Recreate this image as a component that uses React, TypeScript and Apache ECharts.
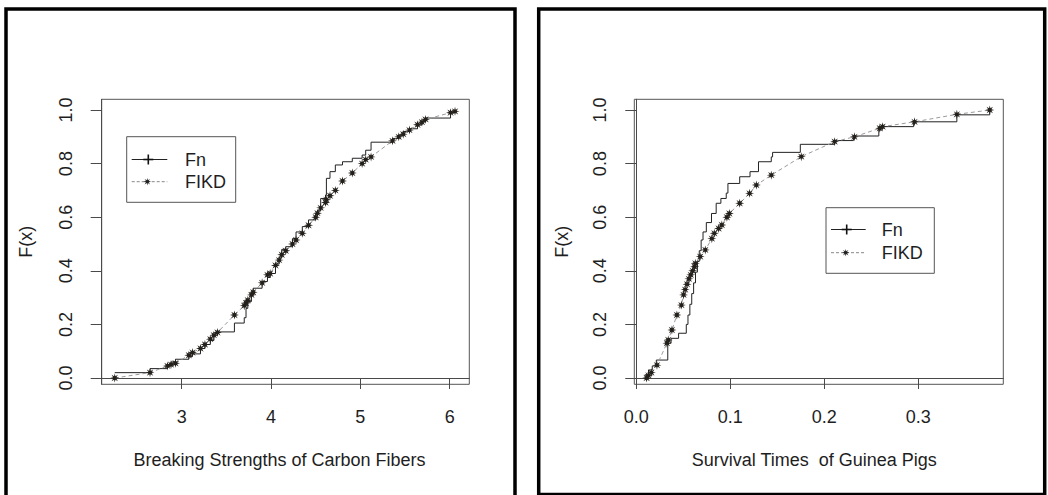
import React, { useEffect, useRef } from "react";
import * as echarts from "echarts";

// ---- Data ----
// Left panel: Breaking strengths of carbon fibers
const leftX = [
  2.25, 2.645, 2.84, 2.88, 2.93, 3.08, 3.12, 3.21, 3.26, 3.32, 3.36, 3.40, 3.59,
  3.70, 3.72, 3.74, 3.78, 3.80, 3.90, 3.96, 3.99, 4.05, 4.09, 4.12, 4.165, 4.24,
  4.28, 4.35, 4.42, 4.50, 4.52, 4.556, 4.61, 4.62, 4.66, 4.72, 4.80, 4.91, 5.02,
  5.06, 5.12, 5.36, 5.43, 5.48, 5.55, 5.64, 5.69, 5.73, 6.01, 6.06,
];
const leftFn = [
  0.02, 0.035, 0.05, 0.06, 0.07, 0.08, 0.09, 0.11, 0.125, 0.14, 0.16, 0.172, 0.205,
  0.225, 0.26, 0.285, 0.31, 0.335, 0.36, 0.375, 0.39, 0.425, 0.45, 0.48, 0.49, 0.52,
  0.545, 0.565, 0.59, 0.61, 0.625, 0.67, 0.683, 0.745, 0.77, 0.795, 0.807, 0.82, 0.832,
  0.85, 0.88, 0.894, 0.907, 0.92, 0.93, 0.944, 0.957, 0.97, 0.99, 0.99,
];
const leftFikd = [
  0.0, 0.02, 0.045, 0.05, 0.055, 0.085, 0.095, 0.11, 0.125, 0.145, 0.16, 0.17, 0.235,
  0.27, 0.28, 0.29, 0.31, 0.32, 0.355, 0.385, 0.39, 0.42, 0.44, 0.46, 0.475, 0.5,
  0.515, 0.54, 0.57, 0.6, 0.615, 0.635, 0.655, 0.665, 0.68, 0.7, 0.735, 0.765, 0.8,
  0.815, 0.825, 0.885, 0.9, 0.91, 0.925, 0.945, 0.955, 0.965, 0.99, 0.995,
];

// Right panel: Survival times of guinea pigs
const rightFnX = [
  0.009, 0.013, 0.017, 0.0213, 0.0335, 0.037, 0.045, 0.0532, 0.055, 0.057, 0.059,
  0.061, 0.063, 0.065, 0.067, 0.069, 0.071, 0.0745, 0.08, 0.085, 0.09, 0.0957,
  0.0975, 0.11, 0.121, 0.13, 0.1436, 0.145, 0.1745, 0.211, 0.231, 0.258, 0.26,
  0.295, 0.341, 0.376,
];
const rightFn = [
  0.012, 0.03, 0.045, 0.067, 0.13, 0.148, 0.167, 0.2, 0.235, 0.275, 0.315, 0.355,
  0.395, 0.435, 0.475, 0.515, 0.545, 0.58, 0.614, 0.652, 0.67, 0.69, 0.726, 0.751,
  0.77, 0.807, 0.825, 0.842, 0.872, 0.886, 0.903, 0.925, 0.938, 0.956, 0.982, 1.0,
];
const rightFikdX = [
  0.011, 0.013, 0.016, 0.022, 0.0326, 0.034, 0.0379, 0.0432, 0.048, 0.0503, 0.052,
  0.054, 0.056, 0.058, 0.06, 0.062, 0.0628, 0.068, 0.0734, 0.0804, 0.083, 0.0876,
  0.091, 0.0964, 0.099, 0.11, 0.1205, 0.1277, 0.1436, 0.1755, 0.211, 0.232, 0.259,
  0.262, 0.296, 0.341, 0.376,
];
const rightFikd = [
  0.0, 0.01, 0.02, 0.048, 0.13, 0.142, 0.179, 0.235, 0.272, 0.31, 0.33, 0.35, 0.37,
  0.385, 0.4, 0.415, 0.428, 0.453, 0.478, 0.52, 0.54, 0.558, 0.571, 0.6, 0.614,
  0.652, 0.689, 0.72, 0.757, 0.826, 0.882, 0.9, 0.932, 0.938, 0.956, 0.984, 1.0,
];

const leftXTicks = [3, 4, 5, 6];
const rightXTicks = [0.0, 0.1, 0.2, 0.3];
const yTicks = [0.0, 0.2, 0.4, 0.6, 0.8, 1.0];

const seriesNames = ["Fn", "FIKD"];
const leftTitle = "Breaking Strengths of Carbon Fibers";
const rightTitle = "Survival Times  of Guinea Pigs";
const yTitle = "F(x)";

const FONT = "'Liberation Sans', Arial, Helvetica, sans-serif";
const TXT = "#1e1e1e";
const AXC = "#4a4a4a";

function starPoints(cx: number, cy: number, r: number): number[][] {
  const pts: number[][] = [];
  for (let k = 0; k < 16; k++) {
    const a = (k * Math.PI) / 8 - Math.PI / 2;
    const rr = k % 2 === 0 ? r : r * 0.4;
    pts.push([cx + rr * Math.cos(a), cy + rr * Math.sin(a)]);
  }
  return pts;
}
const starSymbol =
  "path://M" +
  starPoints(0, 0, 1)
    .map((p) => p[0].toFixed(3) + "," + p[1].toFixed(3))
    .join("L") +
  "Z";

function legendGroup(
  bx: number, by: number, bw: number, bh: number,
  lx1: number, lx2: number, mx: number, tx: number, y1: number, y2: number
) {
  return [
    {
      type: "rect",
      shape: { x: bx, y: by, width: bw, height: bh },
      style: { fill: "#fff", stroke: "#555", lineWidth: 1 },
      z: 10,
    },
    { type: "line", shape: { x1: lx1, y1: y1, x2: lx2, y2: y1 }, style: { stroke: "#222", lineWidth: 1 }, z: 11 },
    { type: "line", shape: { x1: mx - 5, y1: y1, x2: mx + 5, y2: y1 }, style: { stroke: "#111", lineWidth: 1.6 }, z: 12 },
    { type: "line", shape: { x1: mx, y1: y1 - 5, x2: mx, y2: y1 + 5 }, style: { stroke: "#111", lineWidth: 1.6 }, z: 12 },
    {
      type: "text", x: tx, y: y1,
      style: { text: seriesNames[0], font: `18px ${FONT}`, fill: TXT, verticalAlign: "middle", align: "left" },
      z: 12,
    },
    { type: "line", shape: { x1: lx1, y1: y2, x2: lx2, y2: y2 }, style: { stroke: "#888", lineWidth: 1, lineDash: [3, 2] }, z: 11 },
    { type: "polygon", shape: { points: starPoints(mx - 1, y2, 3.8) }, style: { fill: "#222" }, z: 12 },
    {
      type: "text", x: tx, y: y2,
      style: { text: seriesNames[1], font: `18px ${FONT}`, fill: TXT, verticalAlign: "middle", align: "left" },
      z: 12,
    },
  ];
}

function xAxisOpt(gridIndex: number, min: number, max: number, ticks: number[], name: string, fmt: (v: number) => string, pad: number[]) {
  return {
    type: "value",
    gridIndex,
    min,
    max,
    splitLine: { show: false },
    axisLine: { show: true, lineStyle: { color: AXC, width: 1 } },
    axisTick: { show: true, length: 11, customValues: ticks, lineStyle: { color: AXC, width: 1 } },
    axisLabel: { customValues: ticks, formatter: fmt, fontSize: 18, fontFamily: FONT, color: TXT, margin: 24 },
    name,
    nameLocation: "middle",
    nameGap: 67,
    nameTextStyle: { fontSize: 18, fontFamily: FONT, color: TXT, padding: pad },
  };
}

function yAxisOpt(gridIndex: number, labelMargin: number, nameGap: number) {
  return {
    type: "value",
    gridIndex,
    min: -0.0235,
    max: 1.04,
    splitLine: { show: false },
    axisLine: { show: true, lineStyle: { color: AXC, width: 1 } },
    axisTick: { show: true, length: 11, customValues: yTicks, lineStyle: { color: AXC, width: 1 } },
    axisLabel: {
      customValues: yTicks,
      formatter: (v: number) => v.toFixed(1),
      rotate: 90,
      fontSize: 18,
      fontFamily: FONT,
      color: TXT,
      margin: labelMargin,
    },
    name: yTitle,
    nameLocation: "middle",
    nameRotate: 90,
    nameGap,
    nameTextStyle: { fontSize: 18, fontFamily: FONT, color: TXT },
  };
}

function fnSeries(xi: number, xs: number[], ys: number[]) {
  return {
    type: "line",
    name: seriesNames[0],
    xAxisIndex: xi,
    yAxisIndex: xi,
    data: xs.map((x, i) => [x, ys[i]]),
    step: "end",
    symbol: "none",
    lineStyle: { color: "#222", width: 1 },
    z: 3,
  };
}

function fikdSeries(xi: number, xs: number[], ys: number[]) {
  return {
    type: "line",
    name: seriesNames[1],
    xAxisIndex: xi,
    yAxisIndex: xi,
    data: xs.map((x, i) => [x, ys[i]]),
    symbol: starSymbol,
    symbolSize: 9,
    showSymbol: true,
    itemStyle: { color: "#231f1a" },
    lineStyle: { color: "#9a9a9a", width: 1, type: [4, 3] },
    z: 4,
  };
}

export default function App() {
  const ref = useRef<HTMLDivElement>(null);

  useEffect(() => {
    if (!ref.current) return;
    const chart = echarts.init(ref.current, null, { renderer: "svg" });
    chart.setOption({
      animation: false,
      backgroundColor: "#ffffff",
      grid: [
        { left: 101.7, top: 99.3, width: 367.6, height: 285, show: true, borderColor: "#555", borderWidth: 1 },
        { left: 634.3, top: 99.3, width: 369, height: 285, show: true, borderColor: "#555", borderWidth: 1 },
      ],
      xAxis: [
        xAxisOpt(0, 2.104, 6.22, leftXTicks, leftTitle, (v: number) => String(v), [0, 12, 0, 0]),
        xAxisOpt(1, -0.0021, 0.3904, rightXTicks, rightTitle, (v: number) => v.toFixed(1), [0, 9, 0, 0]),
      ],
      yAxis: [yAxisOpt(0, 27, 67), yAxisOpt(1, 25, 63)],
      series: [
        fnSeries(0, leftX, leftFn),
        fikdSeries(0, leftX, leftFikd),
        fnSeries(1, rightFnX, rightFn),
        fikdSeries(1, rightFikdX, rightFikd),
      ],
      graphic: [
        {
          type: "rect",
          shape: { x: 6, y: 9, width: 509, height: 500 },
          style: { fill: "none", stroke: "#000", lineWidth: 3.5 },
          z: 20,
        },
        {
          type: "rect",
          shape: { x: 538.7, y: 9, width: 506, height: 485.5 },
          style: { fill: "none", stroke: "#000", lineWidth: 3.5 },
          z: 20,
        },
        ...legendGroup(126.7, 136.7, 109, 65.6, 131.7, 167.3, 148.3, 185, 159.5, 181.7),
        ...legendGroup(826, 207.7, 108.3, 65.6, 831, 865.7, 846.7, 881.7, 229.5, 252.7),
      ],
    });
    return () => chart.dispose();
  }, []);

  return (
    <div
      ref={ref}
      style={{ position: "absolute", left: 0, top: 0, width: 1048, height: 495, background: "#fff" }}
    />
  );
}
